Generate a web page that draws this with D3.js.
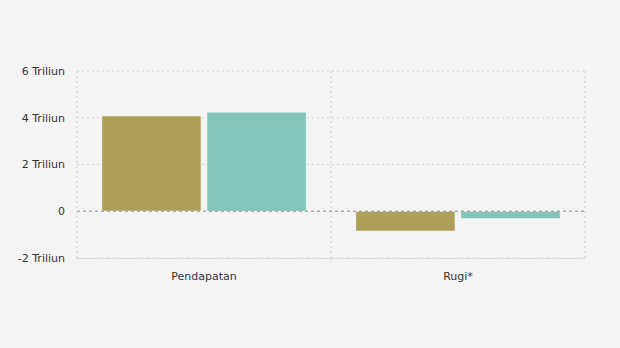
<!DOCTYPE html>
<html>
<head>
<meta charset="utf-8">
<script src="https://cdn.jsdelivr.net/npm/d3@7"></script>
<style>
  html, body { margin: 0; padding: 0; background: #f4f4f4; }
  svg { display: block; }
  text { font-family: "DejaVu Sans", Verdana, sans-serif; font-size: 11px; fill: #333; }
</style>
</head>
<body>
<svg id="chart" width="620" height="348"></svg>
<script>
// Categories and the two series (in trillions)
const categories = ["Pendapatan", "Rugi*"];
const seriesA = [4.08, -0.85];
const seriesB = [4.24, -0.32];
const yTicks = [-2, 0, 2, 4, 6];
const yTickLabels = ["-2 Triliun", "0", "2 Triliun", "4 Triliun", "6 Triliun"];
const colors = ["#ad9f5a", "#85c5b9"];

const svg = d3.select("#chart");
const margin = { left: 77, right: 35, top: 71, bottom: 90 };
const width = 620 - margin.left - margin.right;
const height = 348 - margin.top - margin.bottom;

const g = svg.append("g").attr("transform", `translate(${margin.left},${margin.top})`);

const x = d3.scaleBand().domain(categories).range([0, width]).paddingInner(0).paddingOuter(0);
const x1 = d3.scaleBand().domain([0, 1]).range([0, x.bandwidth()]).paddingInner(0.054).paddingOuter(0.235);
const y = d3.scaleLinear().domain([-2, 6]).range([height, 0]);

// Horizontal gridlines
g.selectAll("line.hgrid").data(yTicks.filter(t => t !== 0)).enter().append("line")
  .attr("x1", 0).attr("x2", width)
  .attr("y1", d => y(d)).attr("y2", d => y(d))
  .attr("stroke", "#d2d2d2").attr("stroke-width", 1.2).attr("stroke-dasharray", "2,3");

// Vertical gridlines at band edges
const vEdges = [0, ...categories.map(c => x(c) + x.bandwidth())];
g.selectAll("line.vgrid").data(vEdges).enter().append("line")
  .attr("x1", d => d).attr("x2", d => d)
  .attr("y1", 0).attr("y2", height)
  .attr("stroke", "#d2d2d2").attr("stroke-width", 1.2).attr("stroke-dasharray", "2,3");

// Y axis labels
g.selectAll("text.ylab").data(yTicks).enter().append("text")
  .attr("x", -12).attr("y", d => y(d)).attr("dy", "0.35em")
  .attr("text-anchor", "end")
  .text((d, i) => yTickLabels[i]);

// Bars
const groups = g.selectAll("g.cat").data(categories).enter().append("g")
  .attr("transform", d => `translate(${x(d)},0)`);
[seriesA, seriesB].forEach((s, si) => {
  groups.append("rect")
    .attr("x", x1(si))
    .attr("width", x1.bandwidth())
    .attr("y", (d, i) => y(Math.max(0, s[i])))
    .attr("height", (d, i) => Math.abs(y(s[i]) - y(0)))
    .attr("fill", colors[si])
    .attr("stroke", "#ffffff").attr("stroke-width", 1).attr("stroke-opacity", 0.7);
});

// Zero line
g.append("line")
  .attr("x1", 0).attr("x2", width)
  .attr("y1", y(0)).attr("y2", y(0))
  .attr("stroke", "#aaaaaa").attr("stroke-width", 1.5).attr("stroke-dasharray", "3,3");

// Bottom axis line and ticks
g.append("line").attr("x1", 0).attr("x2", width).attr("y1", height + 0.5).attr("y2", height + 0.5)
  .attr("stroke", "#dcdcdc");
g.append("line").attr("x1", x.bandwidth()).attr("x2", x.bandwidth())
  .attr("y1", height).attr("y2", height + 5).attr("stroke", "#dcdcdc");

// Category labels
g.selectAll("text.xlab").data(categories).enter().append("text")
  .attr("x", d => x(d) + x1(0) + (x1(1) + x1.bandwidth() - x1(0)) / 2)
  .attr("y", height + 22)
  .attr("text-anchor", "middle")
  .text(d => d);
</script>
</body>
</html>
